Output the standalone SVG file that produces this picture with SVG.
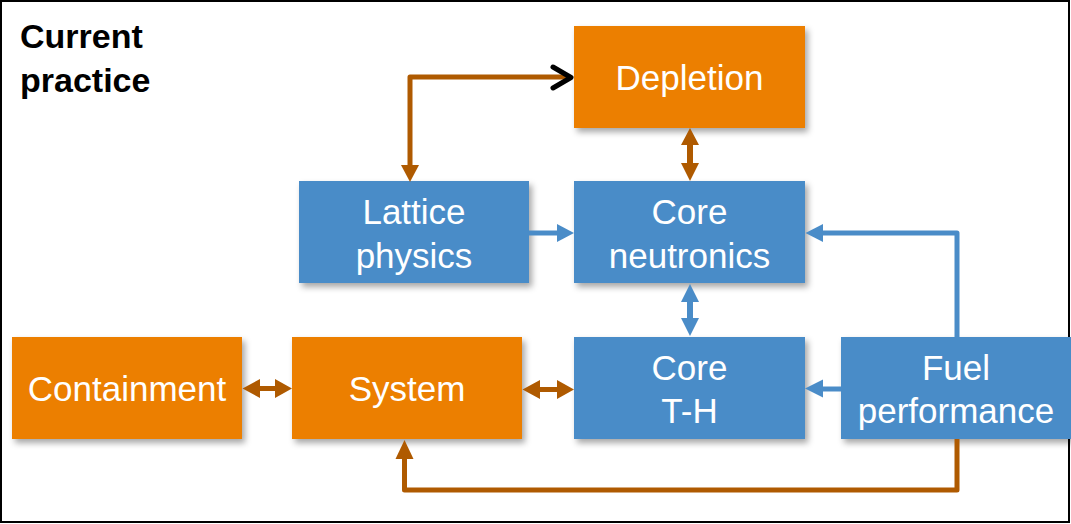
<svg xmlns="http://www.w3.org/2000/svg" width="1071" height="524" viewBox="0 0 1071 524">
<style>
.box{stroke:none;filter:url(#sh)}
.or{fill:#EC7F00}
.bl{fill:#4A8CC8}
.lbl{font-family:"Liberation Sans",Arial,sans-serif;font-size:35px;fill:#ffffff;text-anchor:middle}
.title{font-family:"Liberation Sans",Arial,sans-serif;font-size:34px;font-weight:bold;fill:#000}
.brL{fill:none;stroke:#AF5A00;stroke-width:5;stroke-linejoin:round}
.blL{fill:none;stroke:#4A8CC8;stroke-width:5;stroke-linejoin:round}
.brF{fill:#AF5A00}
.blF{fill:#4A8CC8}
</style>
<defs>
<filter id="sh" x="-10%" y="-10%" width="130%" height="140%">
<feDropShadow dx="3" dy="4" stdDeviation="3" flood-color="#000" flood-opacity="0.35"/>
</filter>
</defs>
<rect x="0" y="0" width="1071" height="524" fill="#ffffff"/>
<rect x="1" y="1" width="1068" height="521" fill="none" stroke="#000" stroke-width="2"/>
<text class="title" x="20" y="48">Current</text>
<text class="title" x="20" y="92">practice</text>

<g id="depletion"><rect class="box or" x="574" y="26" width="231" height="102"/><text class="lbl" x="689.5" y="90">Depletion</text></g>
<g id="lattice"><rect class="box bl" x="299" y="181" width="230" height="102"/><text class="lbl" x="414" y="224">Lattice</text><text class="lbl" x="414" y="268">physics</text></g>
<g id="core-neutronics"><rect class="box bl" x="574" y="181" width="231" height="102"/><text class="lbl" x="689.5" y="224">Core</text><text class="lbl" x="689.5" y="268">neutronics</text></g>
<g id="containment"><rect class="box or" x="12" y="337" width="230" height="102"/><text class="lbl" x="127" y="401">Containment</text></g>
<g id="system"><rect class="box or" x="292" y="337" width="230" height="102"/><text class="lbl" x="407" y="401">System</text></g>
<g id="core-th"><rect class="box bl" x="574" y="337" width="231" height="102"/><text class="lbl" x="689.5" y="380">Core</text><text class="lbl" x="689.5" y="423">T-H</text></g>
<g id="fuel"><rect class="box bl" x="841" y="337" width="230" height="102"/><text class="lbl" x="956" y="380">Fuel</text><text class="lbl" x="956" y="423">performance</text></g>

<g id="connectors">
<path class="brL" d="M410,166 L410,77 L570,77"/>
<polygon class="brF" points="401,165 419,165 410,182"/>
<polyline points="553,67 571,77.5 553,88" fill="none" stroke="#000" stroke-width="5" stroke-linecap="round" stroke-linejoin="round"/>

<polygon class="brF" points="690,128 699,145 693,145 693,163 699,163 690,181 681,163 687,163 687,145 681,145"/>
<polygon class="blF" points="690,284 699,302 693,302 693,318 699,318 690,336 681,318 687,318 687,302 681,302"/>

<path class="blL" d="M529,233 L558,233"/>
<polygon class="blF" points="557,224 574,233 557,242"/>

<polygon class="brF" points="242.5,388.5 260,379 260,386 275,386 275,379 292,388.5 275,398 275,391 260,391 260,398"/>
<polygon class="brF" points="522.5,389.5 540,380 540,387 557,387 557,380 574,389.5 557,399 557,392 540,392 540,399"/>

<path class="blL" d="M957,337 L957,233 L822,233"/>
<polygon class="blF" points="823,224 805.5,233 823,242"/>

<path class="blL" d="M841,389 L822,389"/>
<polygon class="blF" points="823,379.5 805,388.5 823,397.5"/>

<path class="brL" d="M957,439 L957,490 L404.5,490 L404.5,458"/>
<polygon class="brF" points="395.5,459 413.5,459 404.5,440"/>
</g>
</svg>
